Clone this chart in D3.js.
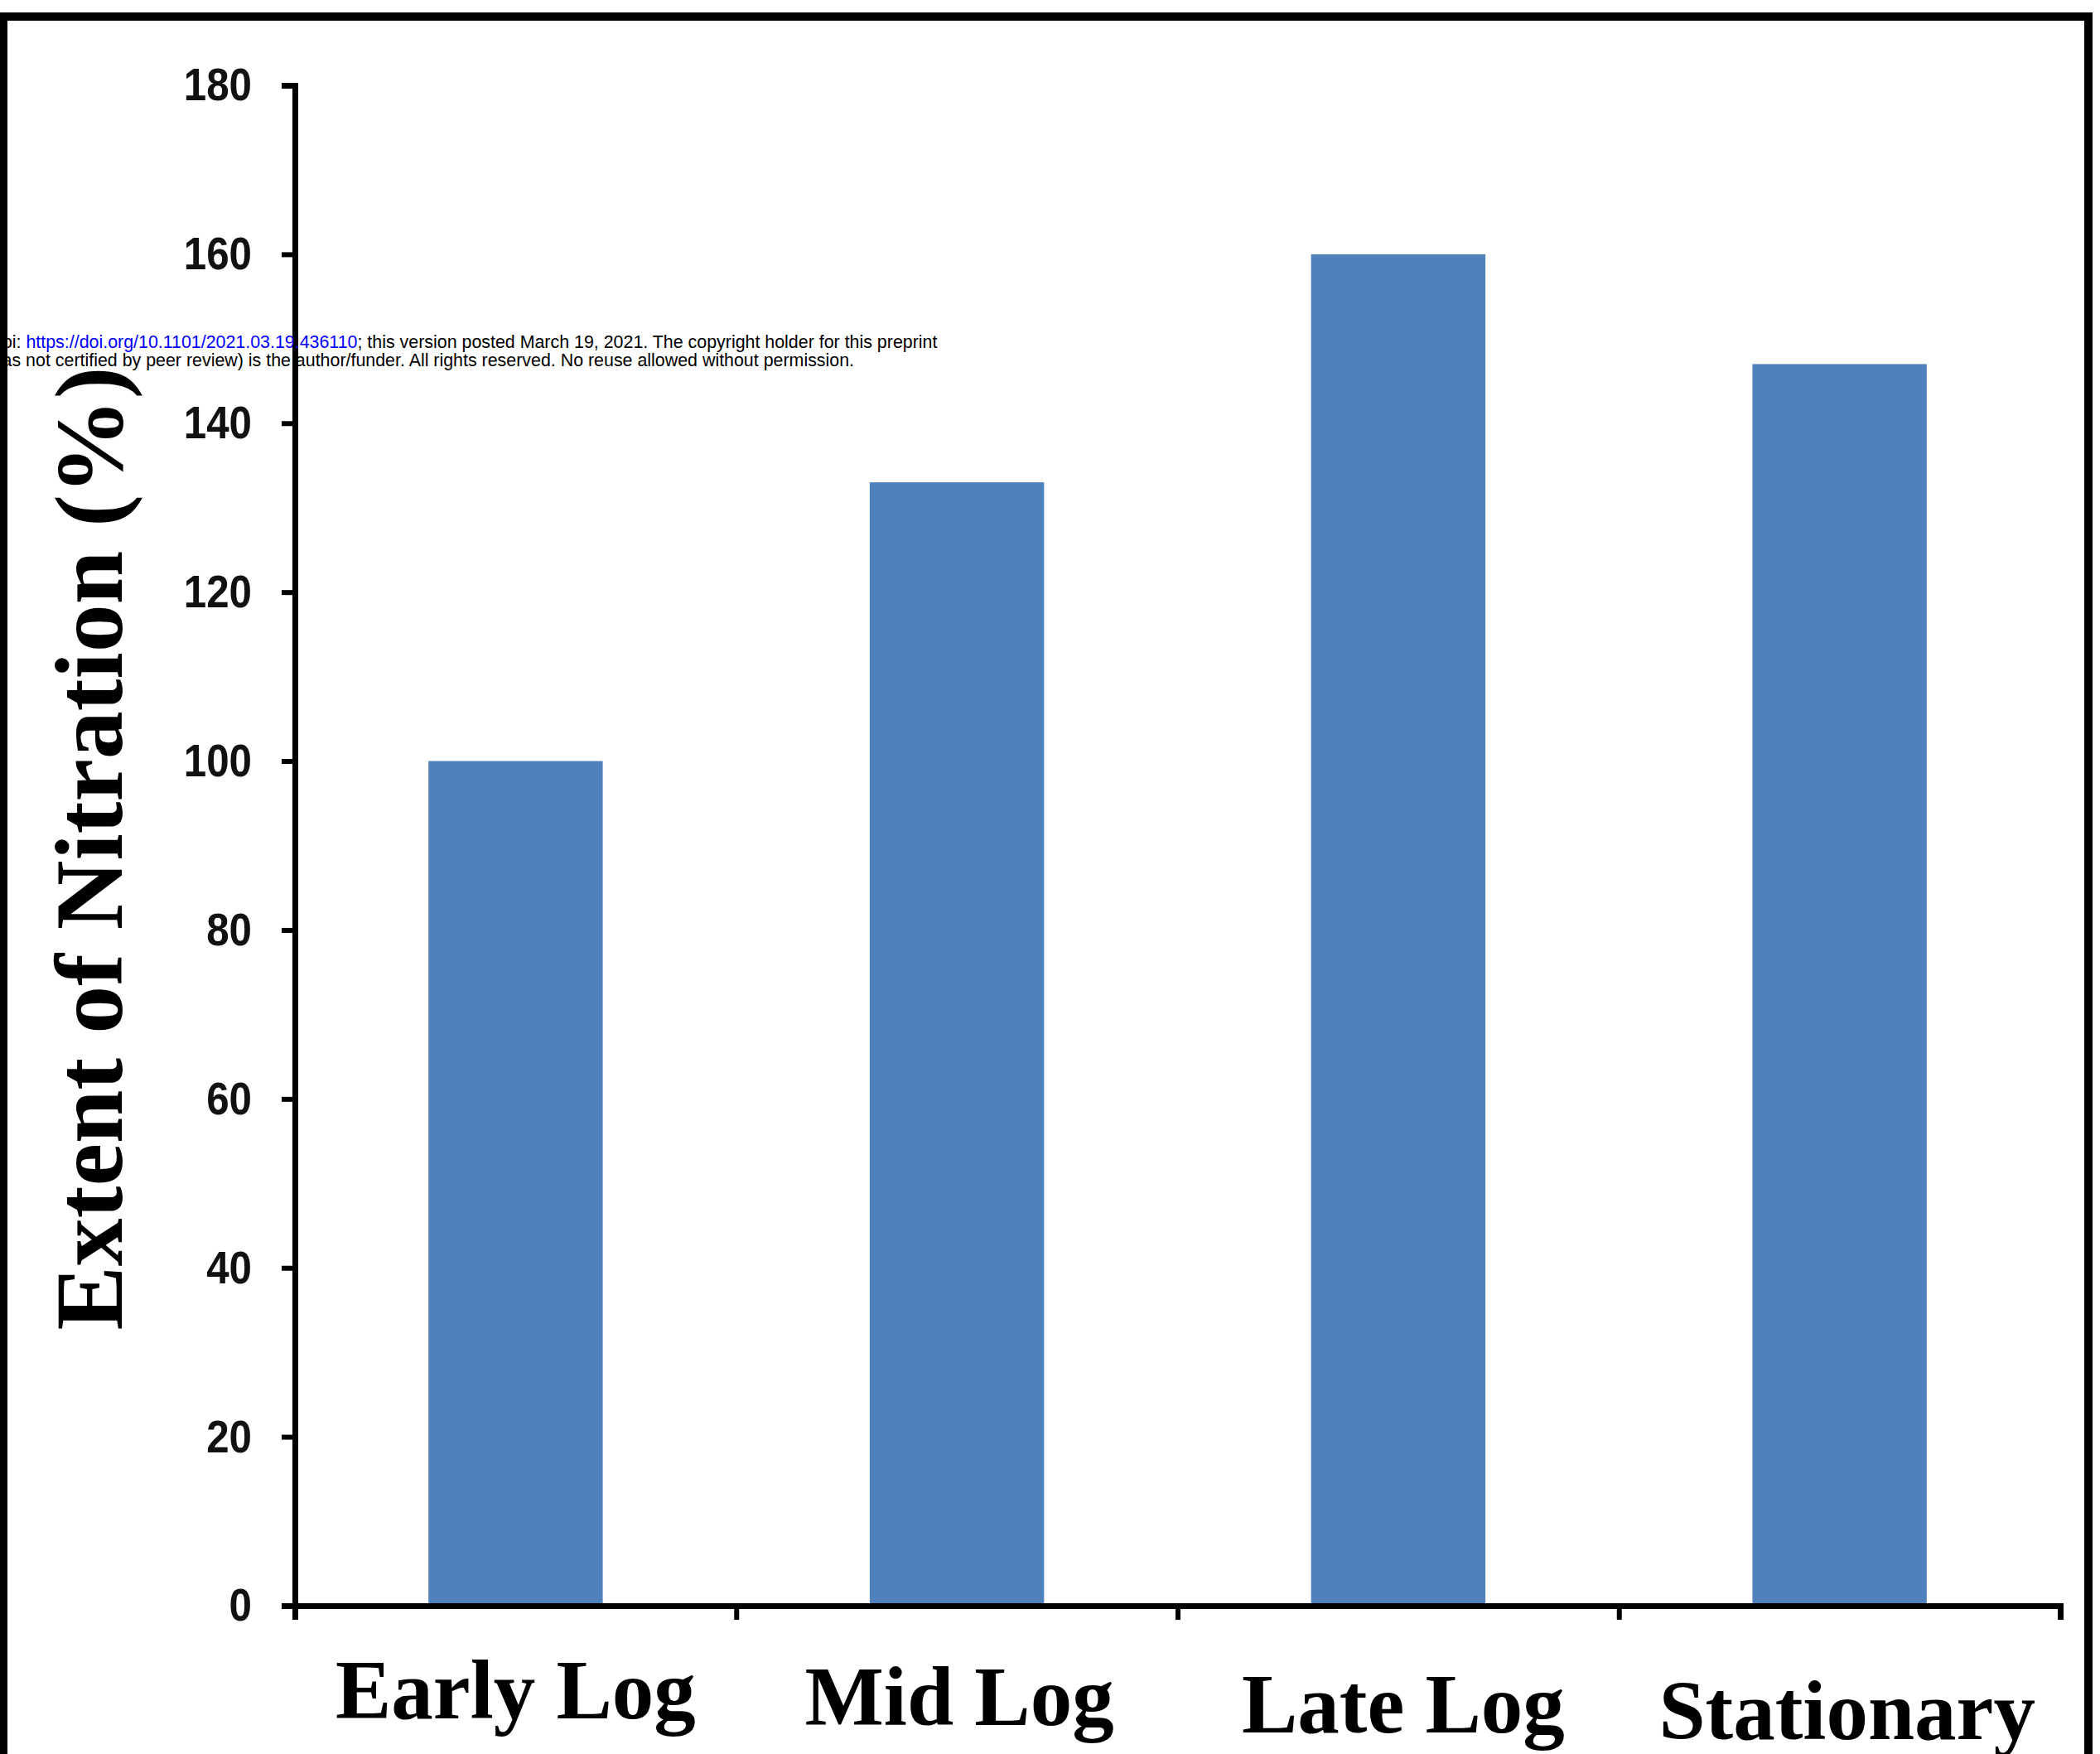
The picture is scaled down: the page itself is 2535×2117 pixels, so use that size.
<!DOCTYPE html>
<html>
<head>
<meta charset="utf-8">
<script src="https://cdn.jsdelivr.net/npm/d3@7"></script>
<style>
  html, body { margin: 0; padding: 0; background: #fff; }
  svg { display: block; }
</style>
</head>
<body>
<svg id="chart" width="2535" height="2117"></svg>
<script>
// ---- data ----
const categories = ["Early Log", "Mid Log", "Late Log", "Stationary"];
const values = [100, 133, 160, 147];
const yTicks = [0, 20, 40, 60, 80, 100, 120, 140, 160, 180];
const yTitle = "Extent of Nitration (%)";
const noteLine1 = ["doi: ", "https://doi.org/10.1101/2021.03.19.436110", "; this version posted March 19, 2021. The copyright holder for this preprint"];
const noteLine2 = "(was not certified by peer review) is the author/funder. All rights reserved. No reuse allowed without permission.";

// ---- layout ----
const W = 2535, H = 2117;
const axisX0 = 356, axisX1 = 2487, axisY0 = 1938, axisYTop = 103;
const svg = d3.select("#chart");

svg.append("rect").attr("x", 0).attr("y", 0).attr("width", W).attr("height", H).attr("fill", "#fff");
// outer frame
svg.append("rect").attr("x", 4).attr("y", 20).attr("width", 2517).attr("height", 2200)
  .attr("fill", "none").attr("stroke", "#000").attr("stroke-width", 10);

const y = d3.scaleLinear().domain([0, 180]).range([axisY0, axisYTop]);
const xBand = d3.scaleBand().domain(categories).range([axisX0, axisX1]).padding(0);
const xEdge = d3.scaleLinear().domain([0, categories.length]).range([axisX0, axisX1]);

const barFrac = 0.395;
// bars
svg.append("g").selectAll("rect").data(categories).join("rect")
  .attr("x", (c) => xBand(c) + xBand.bandwidth() * (1 - barFrac) / 2)
  .attr("width", xBand.bandwidth() * barFrac)
  .attr("y", (c, i) => y(values[i]))
  .attr("height", (c, i) => y(0) - y(values[i]))
  .attr("fill", "#4f81bd");

// y axis
const sx = 0.88;
const gy = svg.append("g").attr("transform", `translate(${axisX0},0)`)
  .call(d3.axisLeft(y).tickValues(yTicks).tickSize(16).tickPadding(36).tickFormat(d3.format("d")));
gy.select(".domain").attr("stroke", "#000").attr("stroke-width", 7).attr("stroke-linejoin", "miter");
gy.selectAll(".tick line").attr("stroke", "#000").attr("stroke-width", 6);
gy.selectAll(".tick text")
  .attr("x", -52 / sx)
  .attr("transform", `scale(${sx},1)`)
  .attr("fill", "#111")
  .style("font-family", "'Liberation Sans', Arial, sans-serif")
  .style("font-weight", "bold")
  .style("font-size", "56px");

// x axis (boundary ticks)
const gx = svg.append("g").attr("transform", `translate(0,${axisY0})`)
  .call(d3.axisBottom(xEdge).tickValues(d3.range(categories.length + 1)).tickSize(17).tickFormat(""));
gx.select(".domain").attr("stroke", "#000").attr("stroke-width", 7);
gx.selectAll(".tick line").attr("stroke", "#000").attr("stroke-width", 6);

// category labels
svg.append("g").selectAll("text").data(categories).join("text")
  .attr("x", (c, i) => xBand(c) + xBand.bandwidth() / 2 + i * 3)
  .attr("y", (c, i) => 2074 + i * 8.3)
  .attr("text-anchor", "middle")
  .style("font-family", "'Liberation Serif', 'Times New Roman', serif")
  .style("font-weight", "bold")
  .style("font-size", "101px")
  .attr("fill", "#000")
  .text((c) => c);

// y title
svg.append("text")
  .attr("transform", "translate(147,1024) rotate(-90)")
  .attr("text-anchor", "middle")
  .style("font-family", "'Liberation Serif', 'Times New Roman', serif")
  .style("font-weight", "bold")
  .style("font-size", "116px")
  .attr("fill", "#000")
  .text(yTitle);

// preprint note
const note = svg.append("g")
  .style("font-family", "'Liberation Sans', Arial, sans-serif")
  .style("font-size", "21.4px");
const t1 = note.append("text").attr("x", -9).attr("y", 420).attr("fill", "#000");
noteLine1.forEach((s, i) => t1.append("tspan").attr("fill", i === 1 ? "#0000ff" : "#000").text(s));
note.append("text").attr("x", -20).attr("y", 442).attr("fill", "#000").text(noteLine2);
</script>
</body>
</html>
